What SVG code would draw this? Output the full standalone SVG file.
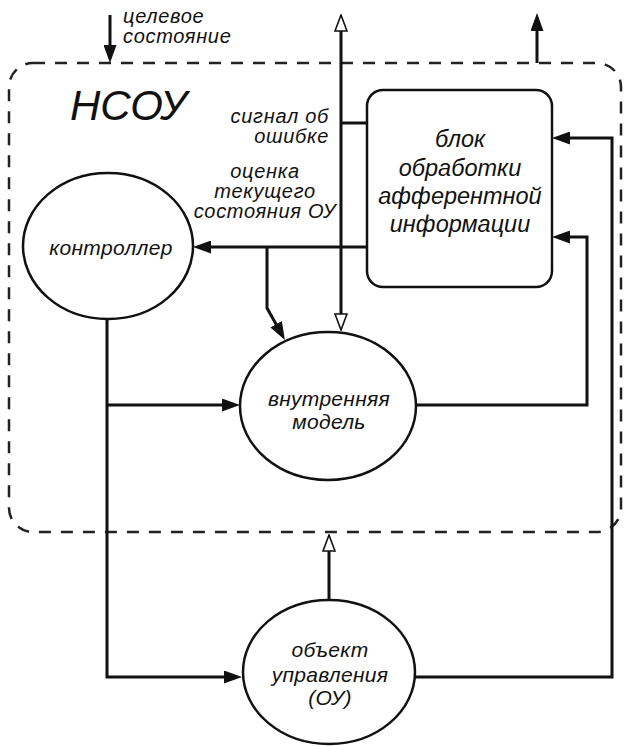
<svg xmlns="http://www.w3.org/2000/svg" width="625" height="746" viewBox="0 0 625 746">
<style>
text{font-family:"Liberation Sans",Arial,sans-serif;font-style:italic;fill:#111}
.lbl{font-size:20px;letter-spacing:0.7px}
.nt{font-size:21px;text-anchor:middle;letter-spacing:0.3px}
.bt{font-size:23.5px;text-anchor:middle}
.node{fill:#fff;stroke:#111;stroke-width:2.5}
.con{fill:none;stroke:#111;stroke-width:3}
</style>
<defs>
<marker id="solid" viewBox="0 0 18 13" markerWidth="18" markerHeight="13" refX="10" refY="6.5" orient="auto" markerUnits="userSpaceOnUse">
<path d="M0,0 L18,6.5 L0,13 Z" fill="#111"/>
</marker>
<marker id="open" viewBox="0 0 18 14" markerWidth="18" markerHeight="14" refX="1" refY="7" orient="auto-start-reverse" markerUnits="userSpaceOnUse">
<path d="M1,1 L17,7 L1,13 Z" fill="#fff" stroke="#111" stroke-width="1.6"/>
</marker>
</defs>
<rect width="625" height="746" fill="#fff"/>

<g id="nsou">
<rect x="9" y="63" width="612" height="469" rx="24" fill="none" stroke="#222" stroke-width="2.5" stroke-dasharray="12 10"/>
<text x="70" y="120" style="font-size:42px">НСОУ</text>
</g>

<g id="connectors">
<path class="con" d="M110,15 L110,55" marker-end="url(#solid)"/>
<path class="con" d="M537,63 L537,21" marker-end="url(#solid)" stroke-width="3.5"/>
<path class="con" d="M341,31 L341,314" marker-start="url(#open)" marker-end="url(#open)"/>
<path class="con" d="M341,123 L367,123"/>
<path class="con" d="M367,247 L201,247" marker-end="url(#solid)"/>
<path class="con" d="M267,247 L267,308 L281,333" marker-end="url(#solid)"/>
<path class="con" d="M107,319 L107,677 L234,677" marker-end="url(#solid)"/>
<path class="con" d="M107,405 L232,405" marker-end="url(#solid)"/>
<path class="con" d="M416,405 L587,405 L587,237 L560,237" marker-end="url(#solid)"/>
<path class="con" d="M415,677 L612,677 L612,138 L560,138" marker-end="url(#solid)"/>
<path class="con" d="M329,600 L329,551" marker-end="url(#open)"/>
</g>

<g id="labels">
<text class="lbl" x="123" y="23">целевое</text>
<text class="lbl" x="123" y="43">состояние</text>
<text class="lbl" x="329" y="123" text-anchor="end">сигнал об</text>
<text class="lbl" x="329" y="143" text-anchor="end">ошибке</text>
<text class="lbl" x="265" y="178" text-anchor="middle">оценка</text>
<text class="lbl" x="265" y="198" text-anchor="middle">текущего</text>
<text class="lbl" x="265" y="218" text-anchor="middle">состояния ОУ</text>
</g>

<g id="controller">
<ellipse class="node" cx="108" cy="246" rx="85" ry="73"/>
<text class="nt" x="111" y="255">контроллер</text>
</g>

<g id="internal-model">
<ellipse class="node" cx="328" cy="406" rx="88" ry="74"/>
<text class="nt" x="329" y="406">внутренняя</text>
<text class="nt" x="329" y="429">модель</text>
</g>

<g id="afferent-block">
<rect class="node" x="367" y="90" width="185" height="197" rx="16"/>
<text class="bt" x="460" y="147">блок</text>
<text class="bt" x="460" y="176">обработки</text>
<text class="bt" x="460" y="204">афферентной</text>
<text class="bt" x="460" y="232">информации</text>
</g>

<g id="object">
<ellipse class="node" cx="329" cy="672" rx="86" ry="72"/>
<text class="nt" x="330" y="657">объект</text>
<text class="nt" x="330" y="682">управления</text>
<text class="nt" x="330" y="705">(ОУ)</text>
</g>
</svg>
